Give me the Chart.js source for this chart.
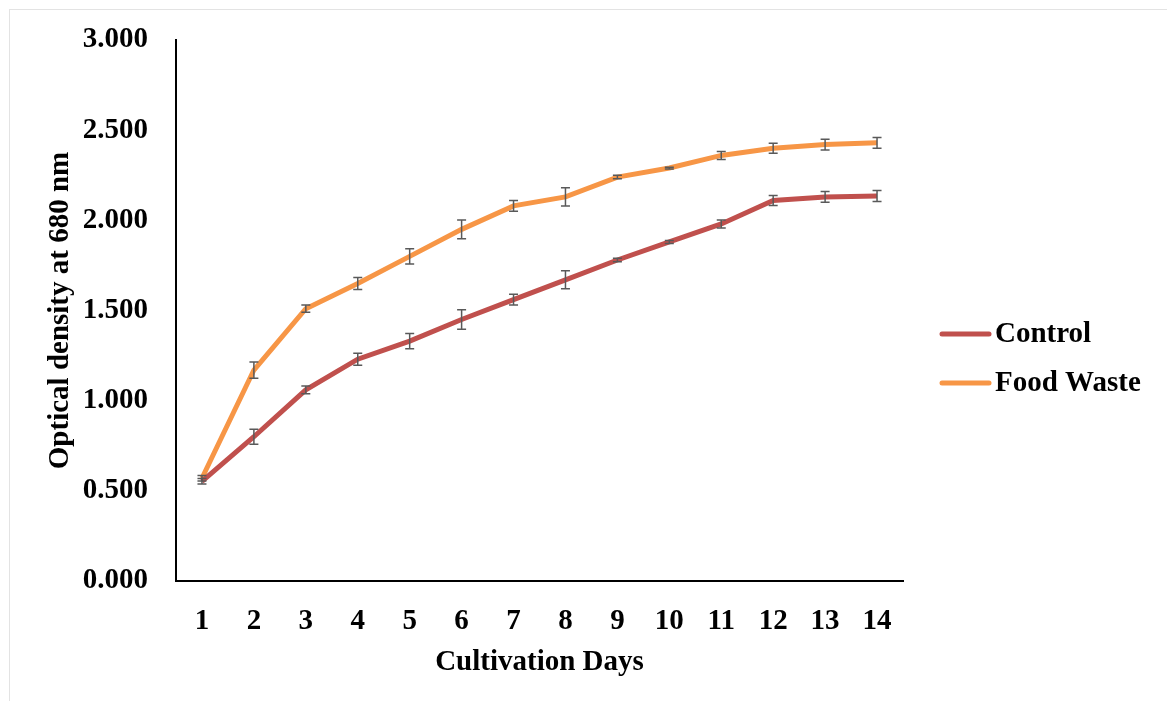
<!DOCTYPE html>
<html lang="en">
<head>
  <meta charset="UTF-8">
  <title>Optical density over cultivation days</title>
  <style>
    html, body { margin: 0; padding: 0; background: #fff; }
    .frame { position: absolute; left: 9px; top: 9px; width: 1200px; height: 720px; border-top: 1px solid #e3e3e3; border-left: 1px solid #e3e3e3; }
    .wrap { position: absolute; left: 0; top: 0; width: 1167px; height: 701px; }
  </style>
</head>
<body>
  <div class="frame"></div>
  <div class="wrap"><canvas id="grafico" width="1167" height="701"></canvas></div>

  <script src="https://cdn.jsdelivr.net/npm/chart.js"></script>
  <script>
    // Data
    const days = ['1', '2', '3', '4', '5', '6', '7', '8', '9', '10', '11', '12', '13', '14'];
    const controlOD = [0.553, 0.80, 1.06, 1.23, 1.33, 1.45, 1.56, 1.67, 1.78, 1.88, 1.98, 2.11, 2.13, 2.135];
    const controlErr = [0.015, 0.042, 0.022, 0.033, 0.042, 0.054, 0.030, 0.050, 0.010, 0.008, 0.022, 0.028, 0.030, 0.030];
    const foodWasteOD = [0.570, 1.17, 1.51, 1.65, 1.80, 1.95, 2.08, 2.13, 2.24, 2.29, 2.36, 2.40, 2.42, 2.43];
    const foodWasteErr = [0.015, 0.045, 0.020, 0.033, 0.042, 0.052, 0.030, 0.050, 0.010, 0.005, 0.022, 0.028, 0.030, 0.030];
    const yTicks = [0, 0.5, 1, 1.5, 2, 2.5, 3];

    const FONT = 'Liberation Serif, Times New Roman, serif';
    const fontBold = { family: FONT, size: 29, weight: 'bold' };

    // Error bars drawn from each dataset's err array
    const errorBars = {
      id: 'errorBars',
      afterDatasetsDraw(chart) {
        const { ctx, scales: { x, y } } = chart;
        ctx.save();
        ctx.strokeStyle = '#595959';
        ctx.lineWidth = 1.5;
        chart.data.datasets.forEach(ds => {
          ds.data.forEach((v, i) => {
            const px = x.getPixelForValue(i);
            const top = y.getPixelForValue(v + ds.err[i]);
            const bot = y.getPixelForValue(v - ds.err[i]);
            ctx.beginPath();
            ctx.moveTo(px, top); ctx.lineTo(px, bot);
            ctx.moveTo(px - 4.5, top); ctx.lineTo(px + 4.5, top);
            ctx.moveTo(px - 4.5, bot); ctx.lineTo(px + 4.5, bot);
            ctx.stroke();
          });
        });
        ctx.restore();
      }
    };

    // Legend on the right, line swatch followed by label
    const sideLegend = {
      id: 'sideLegend',
      afterDraw(chart) {
        const { ctx } = chart;
        ctx.save();
        ctx.font = 'bold 29px ' + FONT;
        ctx.textBaseline = 'middle';
        ctx.lineCap = 'round';
        chart.data.datasets.forEach((ds, i) => {
          const ly = 334 + i * 49;
          ctx.strokeStyle = ds.borderColor;
          ctx.lineWidth = 5;
          ctx.beginPath();
          ctx.moveTo(942, ly); ctx.lineTo(989, ly);
          ctx.stroke();
          ctx.fillStyle = '#000';
          ctx.fillText(ds.label, 995, ly + 1);
        });
        ctx.restore();
      }
    };

    new Chart(document.getElementById('grafico'), {
      type: 'line',
      data: {
        labels: days,
        datasets: [
          { label: 'Control', data: controlOD, err: controlErr, borderColor: '#C0504D', borderWidth: 5, pointRadius: 0, tension: 0 },
          { label: 'Food Waste', data: foodWasteOD, err: foodWasteErr, borderColor: '#F79646', borderWidth: 5, pointRadius: 0, tension: 0 }
        ]
      },
      options: {
        responsive: false,
        animation: false,
        layout: { padding: { left: 0, top: 40, right: 264, bottom: 0 } },
        plugins: { legend: { display: false }, tooltip: { enabled: false } },
        scales: {
          x: {
            offset: true,
            grid: { color: 'transparent', drawTicks: false },
            border: { display: true, color: '#000', width: 2 },
            ticks: { color: '#000', font: fontBold, padding: 23, maxRotation: 0 },
            title: { display: true, text: 'Cultivation Days', color: '#000', font: fontBold, padding: { top: 0, bottom: 21 } },
            afterFit(scale) { scale.height = 120; scale.paddingLeft = 0; scale.paddingRight = 0; }
          },
          y: {
            min: 0,
            max: 3,
            afterBuildTicks(scale) { scale.ticks = yTicks.map(v => ({ value: v })); },
            grid: { color: 'transparent', drawTicks: false },
            border: { display: true, color: '#000', width: 2 },
            ticks: { color: '#000', font: fontBold, padding: 28, callback: v => Number(v).toFixed(3) },
            title: { display: true, text: 'Optical density at 680 nm', color: '#000', font: fontBold, padding: { top: 43, bottom: 0 } },
            afterFit(scale) { scale.width = 176; scale.paddingTop = 0; scale.paddingBottom = 0; }
          }
        }
      },
      plugins: [errorBars, sideLegend]
    });
  </script>
</body>
</html>
